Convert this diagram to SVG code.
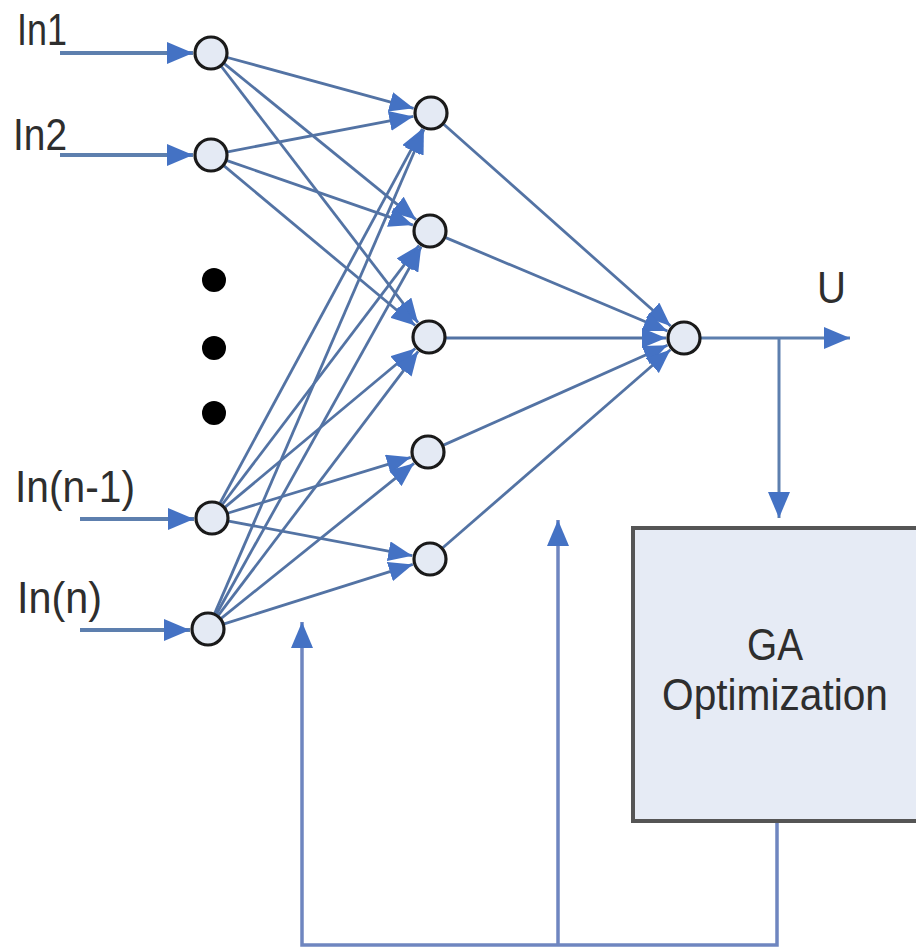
<svg xmlns="http://www.w3.org/2000/svg" width="916" height="951" viewBox="0 0 916 951">
  <style>
    .lbl { font-family: "Liberation Sans", Arial, sans-serif; font-size: 44px; fill: #2e2e2e; }
    .node { fill: #e4eaf4; stroke: #1a1a1a; stroke-width: 3.2; }
    .edge { fill: none; stroke: #5373a4; stroke-width: 2.8; marker-end: url(#tipS); }
    .feed { fill: none; stroke: #6f86c0; stroke-width: 3.5; }
    .dot { fill: #000; }
  </style>
  <defs>
    <marker id="tipS" viewBox="0 0 24 20" refX="24" refY="10" markerWidth="24" markerHeight="20" markerUnits="userSpaceOnUse" orient="auto">
      <path d="M0,0 L24,10 L0,20 Z" fill="#4472c4"/>
    </marker>
    <marker id="tipL" viewBox="0 0 26 22" refX="26" refY="11" markerWidth="26" markerHeight="22" markerUnits="userSpaceOnUse" orient="auto">
      <path d="M0,0 L26,11 L0,22 Z" fill="#4472c4"/>
    </marker>
  </defs>

  <rect width="916" height="951" fill="#ffffff"/>

  <!-- input labels -->
  <text class="lbl" x="17" y="45" textLength="50" lengthAdjust="spacingAndGlyphs">In1</text>
  <text class="lbl" x="13" y="150" textLength="54" lengthAdjust="spacingAndGlyphs">In2</text>
  <text class="lbl" x="15" y="502" textLength="120" lengthAdjust="spacingAndGlyphs">In(n-1)</text>
  <text class="lbl" x="17" y="613" textLength="85" lengthAdjust="spacingAndGlyphs">In(n)</text>

  <!-- connectors -->
  <g id="connectors">
    <!-- inputs -->
    <g stroke="#5d7fae" stroke-width="4" fill="none" marker-end="url(#tipL)">
      <line x1="60" y1="53" x2="193" y2="53"/>
      <line x1="60" y1="155" x2="193" y2="155"/>
      <line x1="80" y1="519" x2="194" y2="519"/>
      <line x1="80" y1="630" x2="190" y2="630"/>
    </g>
    <!-- input layer to hidden layer -->
    <line class="edge" x1="227.4" y1="57.5" x2="413.6" y2="108.3"/>
    <line class="edge" x1="224.2" y1="63.7" x2="416.0" y2="219.6"/>
    <line class="edge" x1="221.4" y1="66.5" x2="418.0" y2="322.7"/>
    <line class="edge" x1="227.7" y1="151.8" x2="413.3" y2="116.4"/>
    <line class="edge" x1="227.1" y1="160.6" x2="413.0" y2="225.1"/>
    <line class="edge" x1="224.1" y1="165.9" x2="415.2" y2="325.5"/>
    <line class="edge" x1="220.1" y1="503.0" x2="422.4" y2="128.8"/>
    <line class="edge" x1="222.3" y1="504.5" x2="419.1" y2="245.3"/>
    <line class="edge" x1="225.1" y1="507.1" x2="415.2" y2="348.5"/>
    <line class="edge" x1="228.3" y1="513.0" x2="410.8" y2="457.3"/>
    <line class="edge" x1="228.7" y1="521.1" x2="412.3" y2="555.7"/>
    <line class="edge" x1="214.7" y1="613.4" x2="423.9" y2="129.5"/>
    <line class="edge" x1="216.3" y1="614.2" x2="421.2" y2="246.7"/>
    <line class="edge" x1="218.3" y1="615.4" x2="418.1" y2="351.4"/>
    <line class="edge" x1="221.2" y1="618.3" x2="414.0" y2="463.3"/>
    <line class="edge" x1="224.2" y1="623.9" x2="412.8" y2="564.4"/>
    <!-- hidden layer to output -->
    <line class="edge" x1="443.7" y1="124.3" x2="670.6" y2="326.0"/>
    <line class="edge" x1="445.7" y1="237.6" x2="667.4" y2="331.0"/>
    <line class="edge" x1="446" y1="338" x2="666" y2="338"/>
    <line class="edge" x1="443.5" y1="445.1" x2="667.5" y2="345.3"/>
    <line class="edge" x1="442.8" y1="547.8" x2="670.4" y2="349.8"/>
    <!-- output U and branch to optimizer -->
    <line x1="700" y1="338" x2="850" y2="338" stroke="#5d7fae" stroke-width="3" marker-end="url(#tipL)"/>
    <line x1="779" y1="338" x2="779" y2="518" stroke="#5d7fae" stroke-width="3" marker-end="url(#tipL)"/>
    <!-- feedback from optimizer to weights -->
    <path class="feed" d="M777,822 L777,945 L302,945 L302,622" marker-end="url(#tipL)"/>
    <line x1="558" y1="945" x2="558" y2="520" stroke="#6f86c0" stroke-width="3.5" marker-end="url(#tipL)"/>
  </g>

  <!-- ellipsis dots -->
  <g id="ellipsis">
    <circle class="dot" cx="214" cy="280" r="12"/>
    <circle class="dot" cx="214" cy="348" r="12"/>
    <circle class="dot" cx="214" cy="413" r="12"/>
  </g>

  <!-- input layer -->
  <g id="in1"><circle class="node" cx="211" cy="53" r="16"/></g>
  <g id="in2"><circle class="node" cx="211" cy="155" r="16"/></g>
  <g id="in_n_1"><circle class="node" cx="212" cy="518" r="16"/></g>
  <g id="in_n"><circle class="node" cx="208" cy="629" r="16"/></g>

  <!-- hidden layer -->
  <g id="h1"><circle class="node" cx="431" cy="113" r="16"/></g>
  <g id="h2"><circle class="node" cx="430" cy="231" r="16"/></g>
  <g id="h3"><circle class="node" cx="429" cy="337" r="16"/></g>
  <g id="h4"><circle class="node" cx="428" cy="452" r="16"/></g>
  <g id="h5"><circle class="node" cx="430" cy="559" r="16"/></g>

  <!-- output -->
  <g id="out"><circle class="node" cx="684" cy="338" r="16"/></g>
  <text class="lbl" x="817" y="303" font-size="42" textLength="29" lengthAdjust="spacingAndGlyphs">U</text>

  <!-- optimizer block -->
  <g id="ga">
    <rect x="633" y="528" width="286" height="293" fill="#e6ebf5" stroke="#555555" stroke-width="4"/>
    <text class="lbl" x="775" y="660" text-anchor="middle" font-size="32" textLength="56" lengthAdjust="spacingAndGlyphs">GA</text>
    <text class="lbl" x="775" y="710" text-anchor="middle" font-size="32" textLength="226" lengthAdjust="spacingAndGlyphs">Optimization</text>
  </g>
</svg>
